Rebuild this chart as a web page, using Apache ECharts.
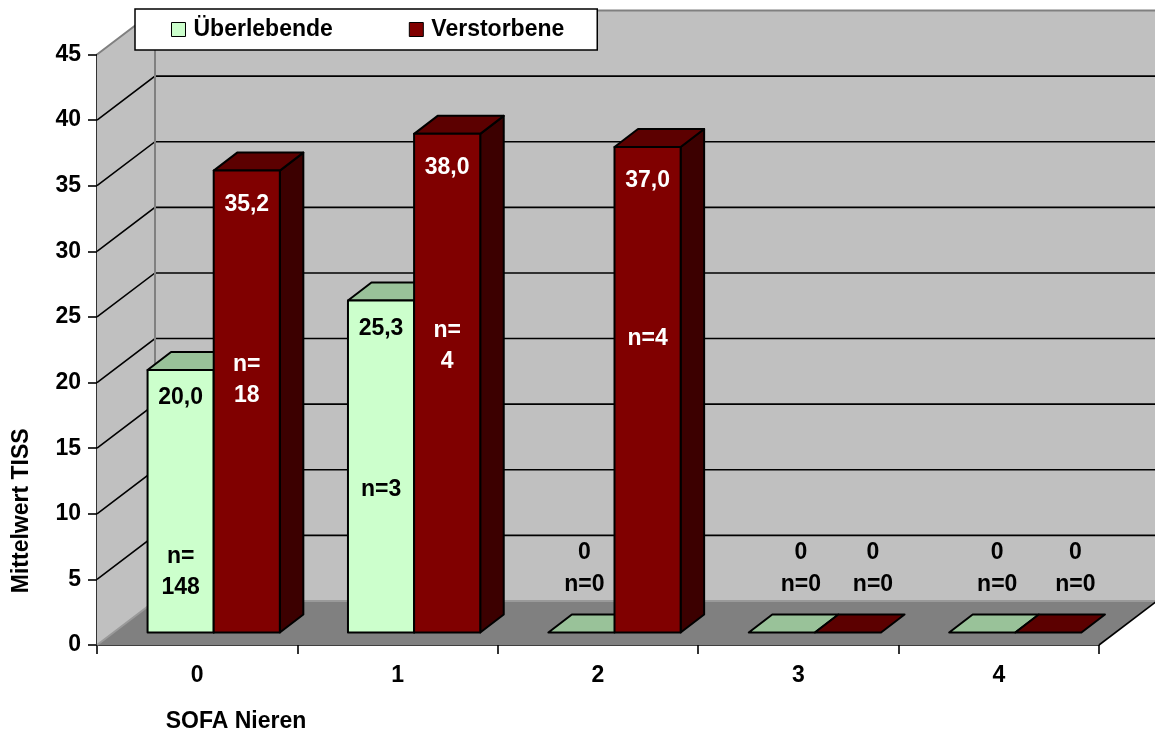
<!DOCTYPE html>
<html>
<head>
<meta charset="utf-8">
<script src="https://cdn.jsdelivr.net/npm/echarts@6/dist/echarts.min.js"></script>
<style>
  html, body { margin: 0; padding: 0; background: #fff; }
  #chart { width: 1155px; height: 733px; }
</style>
</head>
<body>
<div id="chart"></div>
<script>
// SOFA renal sub-score categories
const categories = ['0', '1', '2', '3', '4'];
// Mean TISS per category
const survivors = [20.0, 25.3, 0, 0, 0];
const deceased = [35.2, 38.0, 37.0, 0, 0];
// Group sizes shown on the columns
const nSurvivors = ['n=\n148', 'n=3', 'n=0', 'n=0', 'n=0'];
const nDeceased = ['n=\n18', 'n=\n4', 'n=4', 'n=0', 'n=0'];
// Value axis ticks
const yMin = 0;
const yMax = 45;
const yStep = 5;
const seriesNames = ['Überlebende', 'Verstorbene'];

// ---- layout of the pseudo-3D scene (pixels) ----
const LAYOUT = {
  depth: [58, -44],        // wall / floor depth vector
  front: [16.5, -12.5],    // offset of the column front faces from the front plane
  barDepth: [23.5, -18],   // column depth vector
  barFrac: 0.33,           // column width as a share of the category band
  valueDrop: [28, 34],     // value label distance below the column top, per series
  nLevel: [[4.6, 10.9, null, null, null], [19.2, 21.8, 22.4, null, null]], // n-label height (axis units)
  zeroDx: [[0, 0, 3, 19, 15], [0, 0, 0, 25, 27]]  // horizontal nudge for labels of empty columns
};
const FONT_FAMILY = '"Liberation Sans", Arial, Helvetica, sans-serif';
const FONT_SIZE = 23;

const STYLES = [
  { front: '#ccffcc', top: '#99c299', side: '#7fa37f', label: '#000000' },
  { front: '#800000', top: '#5c0000', side: '#3c0000', label: '#ffffff' }
];

const nLabels = [nSurvivors, nDeceased];

function fmt(v) {
  return v === 0 ? '0' : v.toFixed(1).replace('.', ',');
}

function textEl(str, x, y, color) {
  return {
    type: 'text', x: x, y: y, z2: 10,
    style: {
      text: str, fill: color, fontSize: FONT_SIZE, fontWeight: 'bold',
      fontFamily: FONT_FAMILY, align: 'center', verticalAlign: 'middle', lineHeight: 31
    }
  };
}

// Back wall, side wall, floor and gridlines, placed through the axes' scales
function renderWalls(params, api) {
  const n = categories.length;
  const bw = api.size([1, 0])[0];
  const p0 = api.coord([0, yMin]);
  const x0 = p0[0] - bw / 2;
  const x1 = api.coord([n - 1, yMin])[0] + bw / 2;
  const yb = p0[1];
  const yt = api.coord([0, yMax])[1];
  const dx = LAYOUT.depth[0], dy = LAYOUT.depth[1];
  const children = [
    { type: 'polygon', shape: { points: [[x0, yt], [x0 + dx, yt + dy], [x0 + dx, yb + dy], [x0, yb]] },
      style: { fill: '#c0c0c0' } },
    { type: 'rect', shape: { x: x0 + dx, y: yt + dy, width: x1 - x0, height: yb - yt },
      style: { fill: '#c0c0c0' } },
    { type: 'polygon', shape: { points: [[x0, yb], [x0 + dx, yb + dy], [x1 + dx, yb + dy], [x1, yb]] },
      style: { fill: '#808080' } }
  ];
  for (let v = yMin + yStep; v < yMax; v += yStep) {
    const y = api.coord([0, v])[1];
    children.push({ type: 'polyline', shape: { points: [[x0, y], [x0 + dx, y + dy], [x1 + dx, y + dy]] },
      style: { stroke: '#000', lineWidth: 1.6, fill: null } });
  }
  // wall edges
  children.push({ type: 'polyline', shape: { points: [[x0, yt], [x0 + dx, yt + dy], [x1 + dx + 2, yt + dy]] },
    style: { stroke: '#808080', lineWidth: 2, fill: null } });
  children.push({ type: 'line', shape: { x1: x0 + dx, y1: yt + dy, x2: x0 + dx, y2: yb + dy },
    style: { stroke: '#808080', lineWidth: 2 } });
  children.push({ type: 'polyline', shape: { points: [[x0, yb], [x0 + dx, yb + dy], [x1 + dx + 2, yb + dy]] },
    style: { stroke: '#9a9a9a', lineWidth: 2, fill: null } });
  children.push({ type: 'line', shape: { x1: x1, y1: yb, x2: x1 + dx, y2: yb + dy },
    style: { stroke: '#000', lineWidth: 1.6 } });
  return { type: 'group', children: children };
}

function barRenderer(si) {
  const st = STYLES[si];
  return function (params, api) {
    const ci = api.value(0);
    const v = api.value(1);
    const bw = api.size([1, 0])[0];
    const barW = bw * LAYOUT.barFrac;
    const base = api.coord([ci, 0]);
    const topP = api.coord([ci, v]);
    const left = base[0] - barW + si * barW + LAYOUT.front[0];
    const right = left + barW;
    const yb = base[1] + LAYOUT.front[1];
    const yt = topP[1] + LAYOUT.front[1];
    const ddx = LAYOUT.barDepth[0], ddy = LAYOUT.barDepth[1];
    const edge = { stroke: '#000', lineWidth: 2, lineJoin: 'round' };
    const children = [];
    if (v > 0) {
      children.push({ type: 'polygon',
        shape: { points: [[right, yt], [right + ddx, yt + ddy], [right + ddx, yb + ddy], [right, yb]] },
        style: Object.assign({ fill: st.side }, edge) });
    }
    children.push({ type: 'polygon',
      shape: { points: [[left, yt], [left + ddx, yt + ddy], [right + ddx, yt + ddy], [right, yt]] },
      style: Object.assign({ fill: st.top }, edge) });
    if (v > 0) {
      children.push({ type: 'rect', shape: { x: left, y: yt, width: barW, height: yb - yt },
        style: Object.assign({ fill: st.front }, edge) });
    }
    const cx = (left + right) / 2;
    if (v > 0) {
      children.push(textEl(fmt(v), cx, yt + LAYOUT.valueDrop[si], st.label));
      const lvl = LAYOUT.nLevel[si][ci];
      const ly = api.coord([ci, lvl])[1] + LAYOUT.front[1];
      children.push(textEl(nLabels[si][ci], cx, ly, st.label));
    } else {
      const zx = cx + LAYOUT.zeroDx[si][ci];
      children.push(textEl(fmt(v), zx, yb - 80, '#000'));
      children.push(textEl(nLabels[si][ci], zx, yb - 48, '#000'));
    }
    return { type: 'group', children: children };
  };
}

const chart = echarts.init(document.getElementById('chart'), null, { renderer: 'canvas' });
const textBase = { color: '#000', fontSize: FONT_SIZE, fontWeight: 'bold', fontFamily: FONT_FAMILY };

chart.setOption({
  animation: false,
  backgroundColor: '#ffffff',
  textStyle: { fontFamily: FONT_FAMILY },
  grid: { left: 97, right: 56, top: 54.5, bottom: 88, containLabel: false, outerBoundsMode: 'none' },
  legend: {
    left: 135, top: 9,
    padding: [9, 33, 9, 36],
    itemGap: 76,
    itemWidth: 14, itemHeight: 14,
    backgroundColor: '#ffffff',
    borderColor: '#000', borderWidth: 1.5, borderRadius: 0,
    textStyle: Object.assign({}, textBase, { padding: [0, 0, 0, 3] }),
    selectedMode: false,
    data: [
      { name: seriesNames[0], icon: 'rect', itemStyle: { color: STYLES[0].front, borderColor: '#000', borderWidth: 1 } },
      { name: seriesNames[1], icon: 'rect', itemStyle: { color: STYLES[1].front, borderColor: '#000', borderWidth: 1 } }
    ]
  },
  xAxis: {
    type: 'category',
    data: categories,
    boundaryGap: true,
    name: 'SOFA Nieren',
    nameLocation: 'middle',
    nameGap: 77,
    nameTextStyle: Object.assign({}, textBase, { verticalAlign: 'middle', padding: [0, 724, 0, 0] }),
    axisLine: { show: true, lineStyle: { color: '#000', width: 1.6 } },
    axisTick: { show: true, length: 9, interval: 0, lineStyle: { color: '#000', width: 1.6 } },
    axisLabel: Object.assign({}, textBase, { margin: 19 }),
    splitLine: { show: false }
  },
  yAxis: {
    type: 'value',
    min: yMin, max: yMax, interval: yStep,
    name: 'Mittelwert TISS',
    nameLocation: 'middle',
    nameGap: 75,
    nameTextStyle: Object.assign({}, textBase, { verticalAlign: 'middle', padding: [0, 322, 0, 0] }),
    axisLine: { show: true, lineStyle: { color: '#000', width: 1.6 } },
    axisTick: { show: true, length: 9, lineStyle: { color: '#000', width: 1.6 } },
    axisLabel: Object.assign({}, textBase, { margin: 16 }),
    splitLine: { show: false }
  },
  series: [
    {
      type: 'custom', name: 'walls', silent: true, clip: false, z: 1,
      renderItem: renderWalls,
      data: [[0, 0]]
    },
    {
      type: 'custom', name: seriesNames[0], clip: false, z: 3,
      itemStyle: { color: STYLES[0].front },
      renderItem: barRenderer(0),
      data: survivors.map((v, i) => [i, v])
    },
    {
      type: 'custom', name: seriesNames[1], clip: false, z: 3,
      itemStyle: { color: STYLES[1].front },
      renderItem: barRenderer(1),
      data: deceased.map((v, i) => [i, v])
    }
  ]
});
</script>
</body>
</html>
